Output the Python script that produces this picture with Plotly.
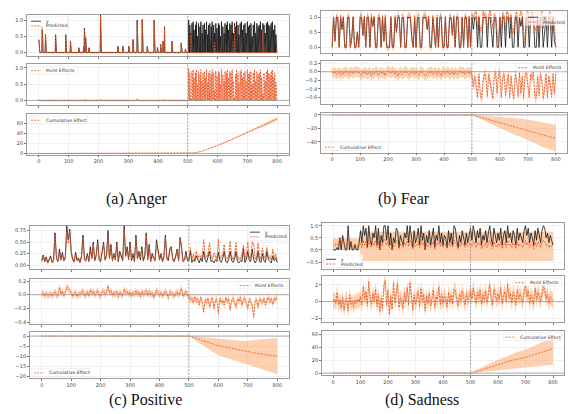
import numpy as np
import plotly.graph_objects as go

# ---------------- data ----------------
X = list(range(0, 801, 5))                      # time index (step 5)
X_UNIT = list(range(0, 801))                    # time index (step 1) for the sparse Anger series
CUM_X = [0] + list(range(500, 801, 25))         # cumulative-effect knots
X_TICKS = [0, 100, 200, 300, 400, 500, 600, 700, 800]
X_TICK_LABELS = [str(v) for v in X_TICKS]
INTERVENTION = 500

# ---- (a) Anger : sparse spikes (position, observed height, predicted height) ----
A_SPIKE_X = [0, 11, 22, 56, 90, 106, 134, 150, 153, 157, 168, 207, 265, 282, 302, 316, 330,
             347, 364, 387, 398, 409, 417, 422, 447, 478, 492,
             503, 507, 510, 514, 518, 521, 526, 529, 533, 536, 541, 544, 548, 551, 556, 559,
             563, 567, 570, 574, 579, 582, 587, 590, 594, 598, 603, 606, 610, 613, 618, 622,
             625, 630, 633, 637, 641, 645, 649, 653, 657, 661, 664, 669, 672, 676, 680, 684,
             688, 692, 696, 700, 704, 708, 712, 716, 720, 724, 728, 732, 736, 740, 744, 748,
             752, 756, 760, 764, 768, 772, 776, 780, 784, 788, 792, 796]
A_SPIKE_Y = [0.40, 0.80, 0.55, 0.55, 0.55, 0.35, 0.15, 0.20, 0.75, 0.45, 0.15, 1.15, 0.20, 0.20,
             0.20, 0.40, 1.00, 1.00, 0.20, 1.00, 0.15, 0.25, 0.35, 0.80, 0.35, 0.30, 0.10,
             1.00, 0.85, 0.60, 0.90, 0.95, 0.70, 0.85, 0.95, 0.50, 0.90, 0.80, 0.95, 0.60, 0.85,
             0.90, 0.70, 0.95, 0.55, 0.85, 0.90, 0.80, 0.95, 0.85, 0.60, 0.90, 0.75, 0.90, 0.85,
             0.50, 0.95, 0.80, 0.60, 0.90, 0.85, 0.95, 0.70, 0.90, 0.85, 0.95, 0.60, 0.90, 0.80,
             0.95, 0.85, 0.55, 0.90, 0.95, 0.70, 0.85, 0.90, 0.60, 0.95, 0.80, 0.85, 0.90, 0.50,
             0.85, 0.95, 0.60, 0.90, 0.80, 0.85, 0.95, 0.70, 0.90, 0.85, 0.60, 0.90, 0.95, 0.85,
             0.80, 0.90, 0.95, 0.70, 0.85, 0.55]
A_SPIKE_PRED = [0.37, 0.80, 0.57, 0.55, 0.55, 0.35, 0.15, 0.20, 0.71, 0.48, 0.15, 1.12, 0.20, 0.20,
                0.20, 0.40, 0.95, 1.03, 0.20, 1.00, 0.15, 0.25, 0.35, 0.77, 0.35, 0.30, 0.10,
                0.02, 0.00, 0.55, 0.00, 0.00, 0.00, 0.00, 0.00, 0.00, 0.00, 0.00, 0.00, 0.00, 0.00,
                0.00, 0.00, 0.00, 0.00, 0.00, 0.00, 0.00, 0.00, 0.00, 0.30, 0.00, 0.00, 0.00, 0.00,
                0.00, 0.00, 0.00, 0.00, 0.00, 0.00, 0.00, 0.00, 0.00, 0.00, 0.00, 0.00, 0.80, 0.00,
                0.00, 0.00, 0.00, 0.00, 0.00, 0.00, 0.00, 0.00, 0.00, 0.00, 0.00, 0.00, 0.00, 0.00,
                0.00, 0.00, 0.00, 0.00, 0.00, 0.00, 0.00, 0.00, 0.70, 0.00, 0.00, 0.00, 0.00, 0.00,
                0.00, 0.00, 0.00, 0.00, 0.00, 0.00]
A_HW = 0.03
A_CUM = [0, 0, 1.5, 5, 10, 16, 22, 29, 35, 42, 49, 55, 62, 69]
A_CUM_LO = [0, 0, 1.2, 4.5, 9, 15, 20.8, 27.6, 33.4, 40.2, 46.9, 52.6, 59.3, 65.4]
A_CUM_HI = [0, 0, 1.8, 5.5, 11, 17, 23.2, 30.4, 36.6, 43.8, 51.1, 57.4, 64.7, 72.6]

# ---- (b) Fear ----
B_Y = [0.0,1.0,0.2,1.0,1.0,0.0,1.0,0.6,1.0,0.0,
       0.0,1.0,1.0,0.0,0.3,1.0,0.0,0.0,0.5,0.0,
       1.0,1.0,0.4,1.0,0.0,1.0,1.0,0.0,1.0,0.7,
       1.0,0.0,0.0,1.0,1.0,0.0,1.0,0.2,1.0,0.0,
       0.0,0.0,1.0,0.0,0.0,1.0,0.5,1.0,1.0,0.0,
       1.0,1.0,0.0,0.0,1.0,1.0,1.0,0.3,0.0,1.0,
       0.0,1.0,1.0,0.0,0.0,1.0,1.0,1.0,0.6,1.0,
       0.0,0.0,1.0,0.5,0.0,1.0,0.0,1.0,1.0,0.0,
       0.0,1.0,0.0,0.0,1.0,1.0,0.4,1.0,0.0,1.0,
       1.0,0.0,0.0,1.0,0.0,1.0,1.0,0.0,1.0,0.0,
       1.0,0.6,1.0,1.0,0.0,1.0,0.0,0.0,1.0,1.0,
       1.0,0.0,1.0,1.0,0.5,0.0,1.0,1.0,0.0,0.0,
       1.0,0.0,1.0,1.0,0.0,1.0,1.0,0.3,1.0,0.0,
       0.0,1.0,1.0,0.0,1.0,0.7,1.0,0.0,0.0,1.0,
       1.0,0.0,1.0,1.0,1.0,0.0,0.0,1.0,0.0,1.0,
       1.0,0.0,0.6,1.0,0.0,1.0,1.0,0.0,1.0,0.2,0.0]
B_EFF = [0,-0.04,-0.01,-0.06,-0.03,0,-0.08,-0.02,-0.05,0,
         0,-0.03,-0.07,0,-0.01,-0.05,0,0,-0.02,0,
         -0.06,-0.09,-0.02,-0.04,0,-0.07,-0.03,0,-0.10,-0.02,
         -0.05,0,0,-0.08,-0.03,0,-0.06,-0.01,-0.09,0,
         0,0,-0.04,0,0,-0.06,-0.02,-0.10,-0.03,0,
         -0.07,-0.02,0,0,-0.05,-0.08,-0.03,-0.01,0,-0.06,
         0,-0.04,-0.09,0,0,-0.03,-0.07,-0.10,-0.02,-0.05,
         0,0,-0.06,-0.02,0,-0.08,0,-0.04,-0.09,0,
         0,-0.05,0,0,-0.07,-0.03,-0.01,-0.08,0,-0.04,
         -0.06,0,0,-0.03,0,-0.07,-0.02,0,-0.05,0,
         -0.08,-0.35,-0.10,-0.30,-0.60,-0.05,-0.55,-0.62,-0.20,-0.05,
         -0.10,-0.58,-0.05,-0.25,-0.45,-0.62,-0.10,-0.02,-0.50,-0.05,
         -0.02,-0.60,-0.15,-0.05,-0.55,-0.30,-0.05,-0.60,-0.10,-0.45,
         -0.62,-0.05,-0.20,-0.58,-0.02,-0.50,-0.10,-0.62,-0.05,-0.02,
         -0.35,-0.60,-0.05,-0.15,-0.02,-0.58,-0.62,-0.10,-0.55,-0.05,
         -0.20,-0.62,-0.40,-0.05,-0.60,-0.10,-0.30,-0.58,-0.05,-0.50,-0.02]
B_HW = 0.12
B_CUM = [0, 0, -3, -6, -9, -12, -14.5, -17, -20, -23, -26, -29, -32, -35]
B_CUM_LO = [0, 0, -5, -10, -15, -20, -25, -29, -33, -37, -42, -47, -51, -55]
B_CUM_HI = [0, 0, -1, -1.5, -2, -2.5, -3.5, -4.5, -5.5, -6.5, -8.5, -11, -13, -15]

# ---- (c) Positive ----
C_Y = [0.10,0.22,0.08,0.18,0.05,0.12,0.20,0.06,0.10,0.70,
       0.15,0.08,0.35,0.12,0.28,0.10,0.18,0.85,0.55,0.78,
       0.30,0.12,0.08,0.28,0.10,0.15,0.06,0.20,0.65,0.12,
       0.10,0.25,0.08,0.40,0.15,0.50,0.10,0.22,0.55,0.12,
       0.08,0.30,0.50,0.12,0.20,0.75,0.15,0.45,0.10,0.25,
       0.12,0.50,0.08,0.30,0.18,0.10,0.85,0.20,0.40,0.12,
       0.50,0.10,0.25,0.08,0.65,0.15,0.30,0.12,0.40,0.10,
       0.20,0.70,0.12,0.45,0.08,0.25,0.15,0.10,0.55,0.30,
       0.12,0.25,0.08,0.18,0.65,0.15,0.10,0.35,0.40,0.12,
       0.08,0.20,0.35,0.10,0.60,0.40,0.08,0.12,0.30,0.10,
       0.10,0.30,0.06,0.12,0.08,0.20,0.10,0.05,0.15,0.08,
       0.30,0.12,0.06,0.20,0.30,0.08,0.10,0.05,0.12,0.08,
       0.28,0.10,0.06,0.15,0.30,0.08,0.05,0.12,0.30,0.10,
       0.06,0.12,0.30,0.08,0.05,0.10,0.08,0.35,0.06,0.12,
       0.30,0.10,0.08,0.35,0.12,0.05,0.10,0.30,0.08,0.06,
       0.25,0.10,0.06,0.30,0.12,0.08,0.05,0.20,0.10,0.15,0.06]
C_EFF = [0.01,0.03,-0.02,0.02,0.00,-0.01,0.02,-0.02,0.01,0.04,
         0.00,-0.02,0.11,0.01,0.05,-0.01,0.03,0.12,0.08,0.05,
         0.03,-0.02,0.01,0.04,-0.03,0.02,0.00,0.03,0.06,-0.02,
         0.01,0.04,-0.02,0.07,0.02,0.05,-0.01,0.03,0.06,0.00,
         -0.02,0.04,0.05,0.01,0.03,0.13,0.02,0.06,-0.01,0.03,
         0.00,0.05,-0.03,0.04,0.01,-0.02,0.08,0.02,0.05,0.00,
         0.04,-0.02,0.03,0.00,0.06,0.01,0.04,-0.03,0.05,0.01,
         0.02,0.06,-0.01,0.05,0.00,0.03,-0.04,0.01,0.07,0.02,
         0.00,0.03,-0.02,0.01,0.05,0.02,-0.05,0.04,0.03,0.00,
         -0.02,0.02,0.04,0.00,0.03,0.09,-0.02,0.01,0.05,-0.01,
         -0.02,-0.08,-0.05,-0.12,-0.03,-0.10,-0.06,-0.15,-0.04,-0.09,
         -0.25,-0.07,-0.12,-0.05,-0.18,-0.10,-0.04,-0.20,-0.08,-0.06,
         -0.28,-0.05,-0.12,-0.08,-0.15,-0.04,-0.10,-0.06,-0.22,-0.09,
         -0.05,-0.12,-0.18,-0.06,-0.10,-0.04,-0.15,-0.08,-0.05,-0.12,
         -0.20,-0.06,-0.10,-0.15,-0.33,-0.08,-0.08,-0.18,-0.06,-0.10,
         -0.12,-0.05,-0.15,-0.08,-0.04,-0.10,-0.06,-0.14,-0.05,-0.08,-0.03]
C_HW = 0.05
C_CUM = [0, 0, -1.2, -2.4, -3.6, -4.7, -5.5, -6.3, -7.0, -7.6, -8.3, -9.0, -9.5, -9.8]
C_CUM_LO = [0, 0, -2.5, -4.8, -7.2, -9.4, -10.7, -12, -13, -14, -15.2, -16.5, -17.6, -18.8]
C_CUM_HI = [0, 0, -0.2, -0.6, -1.0, -1.4, -1.8, -2.1, -2.3, -2.3, -2.0, -1.6, -1.2, -0.9]

# ---- (d) Sadness ----
D_Y = [0,0,0,0.1,0,0.5,0,0.6,0.2,0,
       0,1.0,0,0.35,0,0,0.2,0,0,0.3,
       0.8,0.3,1.0,0.6,0.9,0.1,1.0,0.4,0.2,0.7,
       0.5,1.0,0.2,0.9,0.0,0.6,0.3,1.0,1.0,0.4,
       1.0,0.2,0.7,0.0,0.5,0.3,0.9,0.8,0.1,0.6,
       0.4,0.2,0.7,0.5,1.0,0.3,1.0,0.6,0.1,0.8,
       0.3,0.5,0.9,0.2,1.0,0.4,0.7,0.0,0.6,0.3,
       0.8,0.2,0.5,0.9,0.1,0.6,0.4,1.0,0.3,0.7,
       0.2,0.6,0.5,0.1,0.8,0.3,0.7,0.2,1.0,0.9,
       0.4,0.1,0.6,0.3,0.8,0.5,0.2,0.7,0.3,0.6,
       0.9,0.4,1.0,0.7,0.3,0.8,0.5,0.9,0.2,0.6,
       0.4,0.8,0.3,0.7,1.0,0.5,0.2,0.9,0.6,0.3,
       0.7,0.4,0.9,0.2,0.6,0.8,0.3,1.0,0.5,0.7,
       0.3,0.8,0.6,0.2,0.9,0.4,0.7,0.5,0.3,0.8,
       1.0,0.6,0.9,0.3,0.7,0.5,0.2,0.8,0.4,0.9,
       0.6,0.3,0.8,1.0,0.9,0.5,0.7,0.3,0.6,0.4,0.2]
D_PRED = [0.2,0.15,0.25,0.2,0.3,0.45,0.2,0.4,0.25,0.15,
          0.2,0.35,0.25,0.3,0.2,0.15,0.25,0.2,0.15,0.25,
          0.3,0.1,0.4,0.2,0.35,0.05,0.45,0.15,0.1,0.3,
          0.2,0.4,0.1,0.35,0.0,0.25,0.15,0.45,0.4,0.2,
          0.35,0.1,0.3,0.0,0.2,0.15,0.4,0.3,0.05,0.25,
          0.2,0.1,0.3,0.2,0.45,0.15,0.4,0.25,0.05,0.3,
          0.15,0.2,0.35,0.1,0.4,0.2,0.3,0.0,0.25,0.15,
          0.3,0.1,0.2,0.35,0.05,0.25,0.2,0.4,0.15,0.3,
          0.1,0.25,0.2,0.05,0.3,0.15,0.3,0.1,0.4,0.35,
          0.2,0.05,0.25,0.15,0.3,0.2,0.1,0.3,0.15,0.25,
          0.3,0.15,0.35,0.25,0.1,0.3,0.2,0.35,0.05,0.2,
          0.15,0.3,0.1,0.25,0.4,0.2,0.05,0.35,0.2,0.1,
          0.25,0.15,0.35,0.05,0.2,0.3,0.1,0.4,0.2,0.25,
          0.1,0.3,0.2,0.05,0.35,0.15,0.25,0.2,0.1,0.3,
          0.4,0.2,0.35,0.1,0.25,0.2,0.05,0.3,0.15,0.35,
          0.2,0.1,0.3,0.4,0.35,0.2,0.25,0.1,0.2,0.15,0.1]
D_BAND_X = [0, 100, 100, 800]
D_BAND_LO = [0.0, 0.0, -0.45, -0.45]
D_BAND_HI = [0.47, 0.47, 0.75, 0.75]
D_EFF = [0,0.3,-0.2,1.1,-0.4,0.2,-0.8,0.5,-1.0,0.1,
         0.4,-1.1,0.8,-0.3,0.1,-0.6,0.2,-0.2,0.3,0,
         0.6,-0.4,1.8,0.2,1.2,-0.5,2.4,0.3,-0.3,1.0,
         0.1,1.5,-0.6,0.9,-1.2,0.4,-0.8,1.9,2.5,-0.5,
         1.4,-1.5,0.7,-0.9,2.3,-0.2,1.0,2.2,-0.7,0.5,
         0.2,-0.8,1.1,0.0,1.7,-0.4,2.3,0.6,-1.0,0.8,
         -0.3,0.5,1.2,-0.6,1.6,0.1,0.9,-1.1,0.7,-0.2,
         1.0,-0.5,0.4,1.4,-0.7,0.6,0.2,1.8,-0.4,0.9,
         -0.2,0.7,0.3,-0.6,1.1,0.0,0.8,-0.3,1.5,1.2,
         0.4,-0.5,0.9,0.1,1.3,0.5,-0.4,1.0,0.2,0.6,
         1.2,0.3,1.6,0.7,-0.2,1.1,0.4,1.4,-0.3,0.8,
         0.2,1.3,-0.1,1.0,2.0,0.5,-0.4,1.5,0.6,0.1,
         0.9,0.2,1.7,-0.3,0.7,1.2,0.0,2.1,0.4,1.0,
         -0.2,1.1,0.6,-0.4,1.4,0.3,0.9,0.5,-0.1,1.2,
         1.9,0.5,1.3,-0.2,0.8,0.4,-0.3,1.6,0.2,1.1,
         0.7,0.0,1.2,1.8,1.4,0.3,0.9,-0.2,0.6,0.4,0.1]
D_EFF_HW = 0.9
D_CUM = [0, 0, 3, 6.5, 9.5, 12.8, 16, 19.5, 22, 24, 27.5, 31, 34, 37.5]
D_CUM_LO = [0, 0, 1, 2, 3, 4, 5, 6, 7, 7.7, 9, 10.5, 11.5, 12.8]
D_CUM_HI = [0, 0, 5.5, 11, 16, 20.5, 25, 29, 33, 36, 41, 46, 50, 54]

# y tick values / labels
A_TICKS = ([0, 0.5, 1.0], ["0.0", "0.5", "1.0"]), ([0, 0.5, 1.0], ["0.0", "0.5", "1.0"]), ([0, 20, 40, 60], ["0", "20", "40", "60"])
B_TICKS = ([0, 0.5, 1.0], ["0.0", "0.5", "1.0"]), ([-0.6, -0.4, -0.2, 0, 0.2], ["−0.6", "−0.4", "−0.2", "0.0", "0.2"]), ([-40, -20, 0], ["−40", "−20", "0"])
C_TICKS = ([0, 0.25, 0.5, 0.75], ["0.00", "0.25", "0.50", "0.75"]), ([-0.4, -0.2, 0, 0.2], ["−0.4", "−0.2", "0.0", "0.2"]), ([-20, -15, -10, -5, 0], ["−20", "−15", "−10", "−5", "0"])
D_TICKS = ([-0.5, 0, 0.5, 1.0], ["−0.5", "0.0", "0.5", "1.0"]), ([-2, 0, 2], ["−2", "0", "2"]), ([0, 20, 40, 60], ["0", "20", "40", "60"])

CAPTIONS = ["(a) Anger", "(b) Fear", "(c) Positive", "(d) Sadness"]

for arr in (B_Y, B_EFF, C_Y, C_EFF, D_Y, D_PRED, D_EFF):
    assert len(arr) == len(X), len(arr)
assert len(A_SPIKE_X) == len(A_SPIKE_Y) == len(A_SPIKE_PRED)

# build the Anger series on the unit grid from the spike readings
A_Y = np.zeros(len(X_UNIT))
A_Y[A_SPIKE_X] = A_SPIKE_Y
A_PRED = np.zeros(len(X_UNIT))
A_PRED[A_SPIKE_X] = A_SPIKE_PRED

# ---------------- styling / layout ----------------
W, H = 568, 414
ORANGE = "#EE5522"
BAND = "rgba(252,170,110,0.55)"
BLACK = "#141414"
DASH = "2px,1.2px"
TICKFONT = dict(family="DejaVu Sans", size=5, color="#444444")
LEGFONT = dict(family="DejaVu Sans", size=4.6, color="#333333")

fig = go.Figure()
layout = {}
shapes = []
annotations = []


def px_x(p):
    return p / W


def px_y(p):
    return 1 - p / H


axis_boxes = {}


def add_axes(k, xpx, xr, ypx, yr, ticks, show_xlabels):
    sfx = "" if k == 1 else str(k)
    common = dict(showline=True, linecolor="#9c9c9c", linewidth=0.8, mirror=True,
                  ticks="outside", ticklen=2, tickwidth=0.6, tickcolor="#777777",
                  showgrid=True, gridcolor="#f0f0f0", gridwidth=0.5, zeroline=False,
                  tickfont=TICKFONT, fixedrange=True)
    layout["xaxis" + sfx] = dict(common, domain=[px_x(xpx[0]), px_x(xpx[1])], range=xr,
                                 anchor="y" + sfx, tickvals=X_TICKS, ticktext=X_TICK_LABELS,
                                 showticklabels=show_xlabels)
    layout["yaxis" + sfx] = dict(common, domain=[px_y(ypx[1]), px_y(ypx[0])], range=yr,
                                 anchor="x" + sfx, tickvals=ticks[0], ticktext=ticks[1])
    axis_boxes[k] = (xpx, ypx)
    shapes.append(dict(type="line", xref="x" + sfx, yref="y" + sfx + " domain",
                       x0=INTERVENTION, x1=INTERVENTION, y0=0, y1=1,
                       line=dict(color="#808080", width=0.7, dash="2px,1.5px")))
    return "x" + sfx, "y" + sfx


def zero_line(ax, ay):
    shapes.append(dict(type="line", xref=ax + " domain", yref=ay, x0=0, x1=1, y0=0, y1=0,
                       line=dict(color="#8a8a8a", width=0.7)))


def band(ax, ay, x, lo, hi):
    fig.add_trace(go.Scatter(x=x, y=lo, xaxis=ax, yaxis=ay, mode="lines",
                             line=dict(width=0, color=BAND), hoverinfo="skip", showlegend=False))
    fig.add_trace(go.Scatter(x=x, y=hi, xaxis=ax, yaxis=ay, mode="lines", fill="tonexty",
                             fillcolor=BAND, line=dict(width=0, color=BAND),
                             hoverinfo="skip", showlegend=False))


def line(ax, ay, x, y, color, dash=None, width=0.8):
    fig.add_trace(go.Scatter(x=x, y=y, xaxis=ax, yaxis=ay, mode="lines",
                             line=dict(color=color, width=width, dash=dash),
                             hoverinfo="skip", showlegend=False))


def legend(k, corner, entries):
    (xl, xr_), (yt, yb) = axis_boxes[k]
    row = 4.8
    llen = 10
    tw = max(len(e[0]) for e in entries) * 2.45
    bw = 2 + llen + 3 + tw + 2
    bh = 2 + row * len(entries) + 1
    bx0 = xl + 2 if corner[1] == "l" else xr_ - 2 - bw
    by0 = yt + 2 if corner[0] == "u" else yb - 2 - bh
    shapes.append(dict(type="rect", xref="paper", yref="paper",
                       x0=px_x(bx0), x1=px_x(bx0 + bw), y0=px_y(by0 + bh), y1=px_y(by0),
                       fillcolor="rgba(255,255,255,0.7)", line=dict(color="#e2e2e2", width=0.5)))
    for i, (label, color, dash) in enumerate(entries):
        ry = by0 + 2 + row * (i + 0.5)
        shapes.append(dict(type="line", xref="paper", yref="paper",
                           x0=px_x(bx0 + 2), x1=px_x(bx0 + 2 + llen), y0=px_y(ry), y1=px_y(ry),
                           line=dict(color=color, width=0.8, dash=dash)))
        annotations.append(dict(xref="paper", yref="paper", x=px_x(bx0 + 2 + llen + 3), y=px_y(ry),
                                text=label, showarrow=False, xanchor="left", yanchor="middle",
                                font=LEGFONT))


LEG_TOP = [("y", BLACK, None), ("Predicted", ORANGE, DASH)]
LEG_PE = [("Point Effects", ORANGE, DASH)]
LEG_CE = [("Cumulative Effect", ORANGE, DASH)]

PANELS = [
    dict(x=X_UNIT, y=A_Y, pred=A_PRED, eff=None, hw=A_HW, band=None,
         cum=(A_CUM, A_CUM_LO, A_CUM_HI),
         ticks=A_TICKS, xpx=(27, 289), xr=[-40, 840],
         rows=[(13, 55, [-0.12, 1.16]), (63, 104, [-0.14, 1.11]), (113, 154, [-2, 79])],
         legs=[("ul", LEG_TOP), ("ul", LEG_PE), ("ul", LEG_CE)], cap=(137, 199)),
    dict(x=X, y=B_Y, pred=None, eff=B_EFF, hw=B_HW, band=None,
         cum=(B_CUM, B_CUM_LO, B_CUM_HI),
         ticks=B_TICKS, xpx=(321, 567), xr=[-40, 840],
         rows=[(9, 52, [-0.21, 1.22]), (60, 103, [-0.75, 0.24]), (112, 152, [-56, 3])],
         legs=[("ur", LEG_TOP), ("ur", LEG_PE), ("ll", LEG_CE)], cap=(404, 199)),
    dict(x=X, y=C_Y, pred=None, eff=C_EFF, hw=C_HW, band=None,
         cum=(C_CUM, C_CUM_LO, C_CUM_HI),
         ticks=C_TICKS, xpx=(30, 289), xr=[-40, 840],
         rows=[(226, 270, [-0.09, 0.85]), (280, 325, [-0.425, 0.225]), (333, 380, [-20.8, 2.1])],
         legs=[("ur", LEG_TOP), ("ur", LEG_PE), ("ll", LEG_CE)], cap=(145, 402)),
    dict(x=X, y=D_Y, pred=D_PRED, eff=D_EFF, hw=D_EFF_HW, band=(D_BAND_X, D_BAND_LO, D_BAND_HI),
         cum=(D_CUM, D_CUM_LO, D_CUM_HI),
         ticks=D_TICKS, xpx=(322, 564), xr=[-40, 840],
         rows=[(223, 270, [-0.8, 1.12]), (277, 323, [-2.4, 3.0]), (332, 377, [-3.5, 65])],
         legs=[("ll", LEG_TOP), ("ur", LEG_PE), ("ur", LEG_CE)], cap=(422, 402)),
]

k = 0
for p in PANELS:
    xs = p["x"]
    y = np.array(p["y"], dtype=float)
    hw = p["hw"]
    if p["pred"] is None:
        eff = np.array(p["eff"], dtype=float)
        pred = y - eff                      # point effect = observed - predicted
    else:
        pred = np.array(p["pred"], dtype=float)
        eff = y - pred if p["eff"] is None else np.array(p["eff"], dtype=float)
    if p["band"] is None:
        top_x, top_lo, top_hi = xs, pred - hw, pred + hw
    else:
        top_x, top_lo, top_hi = p["band"]
    cum, clo, chi = p["cum"]

    k += 1
    ax, ay = add_axes(k, p["xpx"], p["xr"], p["rows"][0][:2], p["rows"][0][2], p["ticks"][0], False)
    band(ax, ay, top_x, top_lo, top_hi)
    line(ax, ay, xs, y, BLACK, None, 0.8)
    line(ax, ay, xs, pred, ORANGE, DASH, 0.9)
    legend(k, p["legs"][0][0], p["legs"][0][1])

    k += 1
    ax, ay = add_axes(k, p["xpx"], p["xr"], p["rows"][1][:2], p["rows"][1][2], p["ticks"][1], False)
    band(ax, ay, xs, eff - hw, eff + hw)
    zero_line(ax, ay)
    line(ax, ay, xs, eff, ORANGE, DASH, 0.9)
    legend(k, p["legs"][1][0], p["legs"][1][1])

    k += 1
    ax, ay = add_axes(k, p["xpx"], p["xr"], p["rows"][2][:2], p["rows"][2][2], p["ticks"][2], True)
    band(ax, ay, CUM_X, clo, chi)
    zero_line(ax, ay)
    line(ax, ay, CUM_X, cum, ORANGE, DASH, 0.8)
    legend(k, p["legs"][2][0], p["legs"][2][1])

for p, cap in zip(PANELS, CAPTIONS):
    annotations.append(dict(xref="paper", yref="paper", x=px_x(p["cap"][0]), y=px_y(p["cap"][1]),
                            text=cap, showarrow=False, xanchor="center", yanchor="middle",
                            font=dict(family="Liberation Serif", size=16, color="#111111")))

fig.update_layout(width=W, height=H, margin=dict(l=0, r=0, t=0, b=0),
                  paper_bgcolor="white", plot_bgcolor="white", showlegend=False,
                  shapes=shapes, annotations=annotations, **layout)
fig.write_html("out.html", config={"displayModeBar": False},
               post_script="document.body.style.margin='0px';")
